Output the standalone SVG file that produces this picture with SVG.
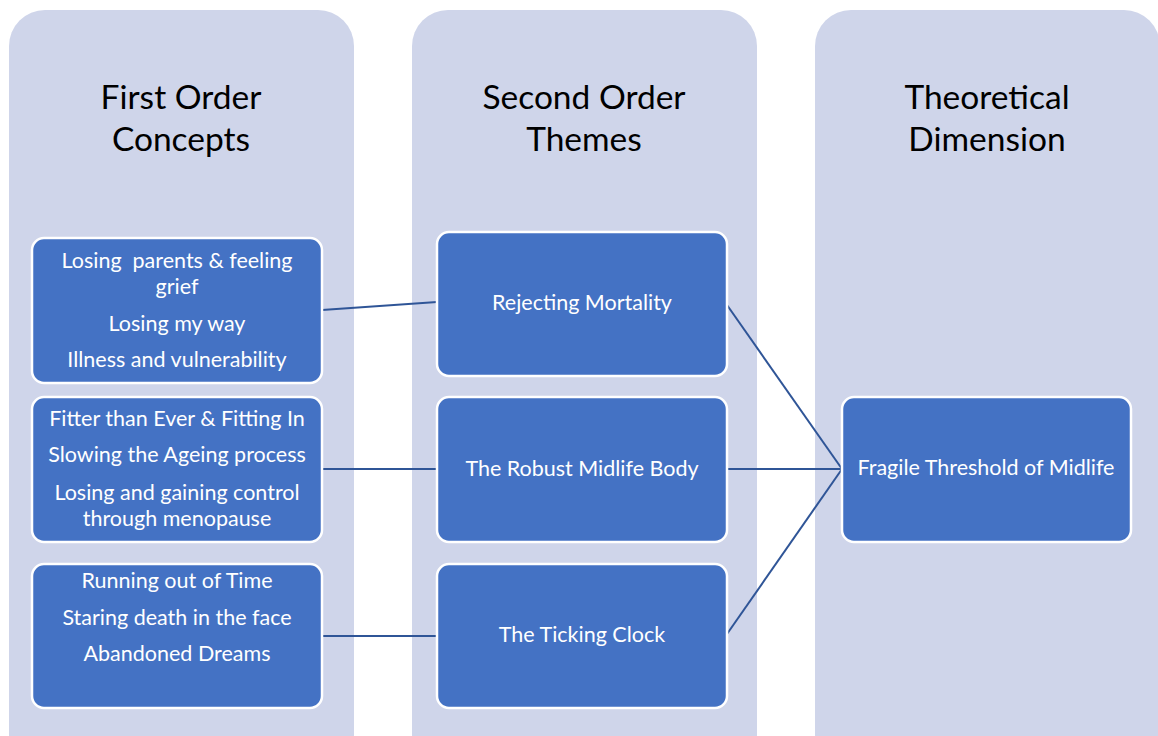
<svg xmlns="http://www.w3.org/2000/svg" width="1158" height="736" viewBox="0 0 1158 736">
  <style>
    .band { fill: #CFD5EA; }
    .box { fill: #4472C4; stroke: #FFFFFF; stroke-width: 2.5; }
    .head { font-family: Lato, "Open Sans", sans-serif; font-size: 33.5px; fill: #000000; text-anchor: middle; }
    .lbl { font-family: Lato, "Open Sans", sans-serif; font-size: 21.5px; fill: #FFFFFF; text-anchor: middle; white-space: pre; }
    .conn { stroke: #2F5597; stroke-width: 2; fill: none; }
  </style>
  <rect width="1158" height="736" fill="#FFFFFF"/>

  <!-- column bands -->
  <g id="col-first">
    <rect class="band" x="9" y="10" width="345" height="760" rx="36"/>
    <text class="head" x="181" y="109">First Order</text>
    <text class="head" x="181" y="151">Concepts</text>
  </g>
  <g id="col-second">
    <rect class="band" x="412" y="10" width="345" height="760" rx="36"/>
    <text class="head" x="584" y="109">Second Order</text>
    <text class="head" x="584" y="151">Themes</text>
  </g>
  <g id="col-theory">
    <rect class="band" x="815" y="10" width="345" height="760" rx="36"/>
    <text class="head" x="987" y="109">Theoretical</text>
    <text class="head" x="987" y="151">Dimension</text>
  </g>

  <!-- connectors -->
  <g id="connectors">
    <line class="conn" x1="322" y1="310" x2="437" y2="302"/>
    <line class="conn" x1="322" y1="469" x2="437" y2="469"/>
    <line class="conn" x1="322" y1="636" x2="437" y2="636"/>
    <line class="conn" x1="727" y1="305" x2="842" y2="469"/>
    <line class="conn" x1="727" y1="469" x2="842" y2="469"/>
    <line class="conn" x1="727" y1="634" x2="842" y2="469"/>
  </g>

  <!-- first order concepts -->
  <g id="fo-mortality">
    <rect class="box" x="32" y="238" width="290" height="145" rx="12"/>
    <text class="lbl" x="177" y="268">Losing  parents &amp; feeling</text>
    <text class="lbl" x="177" y="294">grief</text>
    <text class="lbl" x="177" y="331">Losing my way</text>
    <text class="lbl" x="177" y="367">Illness and vulnerability</text>
  </g>
  <g id="fo-body">
    <rect class="box" x="32" y="397" width="290" height="145" rx="12"/>
    <text class="lbl" x="177" y="426">Fitter than Ever &amp; Fitting In</text>
    <text class="lbl" x="177" y="462">Slowing the Ageing process</text>
    <text class="lbl" x="177" y="500">Losing and gaining control</text>
    <text class="lbl" x="177" y="526">through menopause</text>
  </g>
  <g id="fo-clock">
    <rect class="box" x="32" y="564" width="290" height="144" rx="12"/>
    <text class="lbl" x="177" y="588">Running out of Time</text>
    <text class="lbl" x="177" y="625">Staring death in the face</text>
    <text class="lbl" x="177" y="661">Abandoned Dreams</text>
  </g>

  <!-- second order themes -->
  <g id="so-mortality">
    <rect class="box" x="437" y="232" width="290" height="144" rx="12"/>
    <text class="lbl" x="582" y="310">Rejecting Mortality</text>
  </g>
  <g id="so-body">
    <rect class="box" x="437" y="397" width="290" height="145" rx="12"/>
    <text class="lbl" x="582" y="476">The Robust Midlife Body</text>
  </g>
  <g id="so-clock">
    <rect class="box" x="437" y="564" width="290" height="144" rx="12"/>
    <text class="lbl" x="582" y="642">The Ticking Clock</text>
  </g>

  <!-- theoretical dimension -->
  <g id="td-threshold">
    <rect class="box" x="842" y="397" width="289" height="145" rx="12"/>
    <text class="lbl" x="986" y="475">Fragile Threshold of Midlife</text>
  </g>
</svg>
